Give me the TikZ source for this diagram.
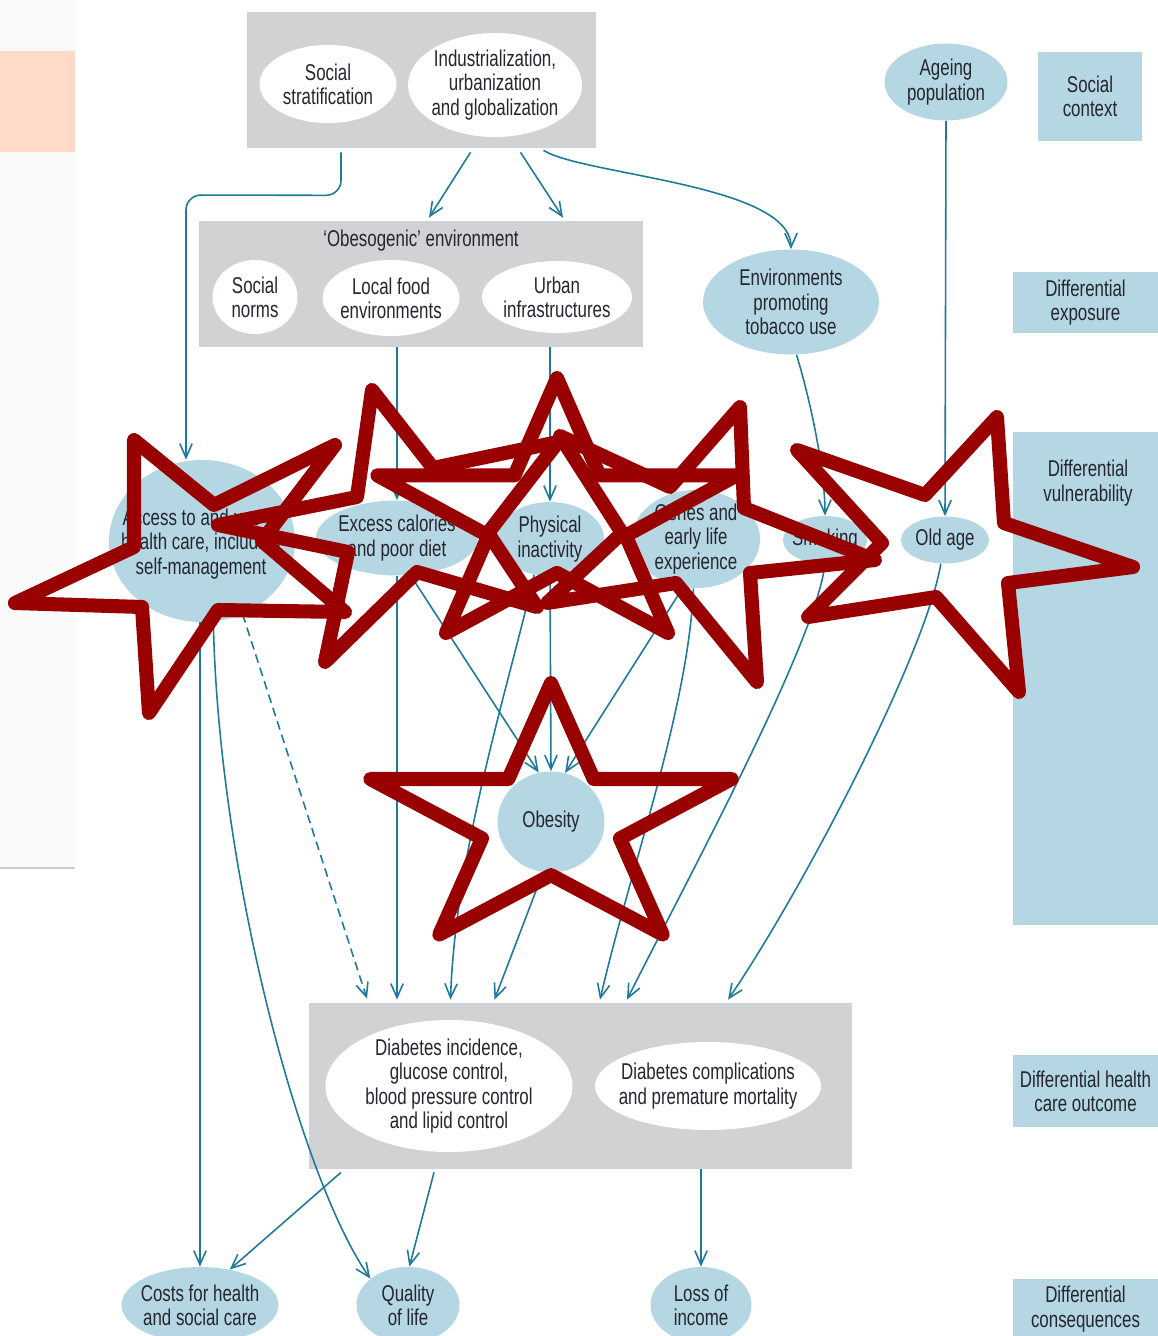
\documentclass[tikz,border=0pt]{standalone}
\usepackage{fontspec}
\setmainfont{Liberation Sans}[FakeStretch=0.74]
\usetikzlibrary{arrows.meta,calc,shapes.geometric}

\definecolor{boxgray}{RGB}{209,210,212}
\definecolor{paleblue}{RGB}{181,214,227}
\definecolor{linkblue}{RGB}{30,122,154}
\definecolor{starred}{RGB}{153,0,0}
\definecolor{peach}{RGB}{255,218,200}
\definecolor{panel}{RGB}{250,250,250}
\definecolor{txt}{RGB}{38,38,46}
\newcommand{\pxl}{0.02cm}

\begin{document}
\begin{tikzpicture}[x={(0.02cm,0)},y={(0,-0.02cm)},
    font=\fontsize{13}{13.8}\selectfont, text=txt,
    wbox/.style={ellipse, fill=white, inner sep=0pt},
    bbox/.style={ellipse, fill=paleblue, inner sep=0pt},
    words/.style={label={[align=center]center:#1}},
    gbox/.style={rectangle, fill=boxgray, inner sep=0pt},
    side/.style={rectangle, fill=paleblue, align=center, inner sep=0pt},
    link/.style={draw=linkblue, line width=0.9pt, -{Straight Barb[length=8pt,width=7pt]}},
    starline/.style={draw=starred, line width=8pt, line join=round, line cap=round}]
        \useasboundingbox (0,0) rectangle (1158,1336);
        \clip (0,0) rectangle (1158,1336);

        % left margin panel
        \fill[panel] (0,0) rectangle (75,868);
        \draw[black!20, line width=0.6pt] (0,868) -- (75,868);
        \fill[peach] (0,51) rectangle (75,152);

        % social context
        \node[gbox, minimum width=349*\pxl, minimum height=136*\pxl] (topbox) at (421.5,80) {};
        \node[wbox, minimum width=137*\pxl, minimum height=78*\pxl, words={Social\\stratification}] (strat) at (328,84) {};
        \node[wbox, minimum width=174*\pxl, minimum height=104*\pxl, words={Industrialization,\\urbanization\\and globalization}] (ind) at (495,85) {};
        \node[bbox, minimum width=123*\pxl, minimum height=77*\pxl, words={Ageing\\population}] (ageing) at (946,82) {};

        % exposure
        \node[gbox, minimum width=444*\pxl, minimum height=126*\pxl] (obesobox) at (421,284) {};
        \node (obesotitle) at (421,241) {`Obesogenic' environment};
        \node[wbox, minimum width=85*\pxl, minimum height=74*\pxl, words={Social\\norms}] (norms) at (255,297) {};
        \node[wbox, minimum width=137*\pxl, minimum height=76*\pxl, words={Local food\\environments}] (localfood) at (391,298) {};
        \node[wbox, minimum width=150*\pxl, minimum height=72*\pxl, words={Urban\\infrastructures}] (urban) at (557,297) {};
        \node[bbox, minimum width=176*\pxl, minimum height=105*\pxl, words={Environments\\promoting\\tobacco use}] (tobacco) at (791,302) {};

        % vulnerability
        \node[bbox, minimum width=186*\pxl, minimum height=162*\pxl] (access) at (202,541) {};
        \node[align=center] (accesstext) at (201,544) {Access to and use of\\health care, including\\self-management};
        \node[bbox, minimum width=162*\pxl, minimum height=75*\pxl, words={Excess calories\\and poor diet}] (excess) at (397,538) {};
        \node[bbox, minimum width=108*\pxl, minimum height=74*\pxl, words={Physical\\inactivity}] (phys) at (550,539) {};
        \node[bbox, minimum width=128*\pxl, minimum height=98*\pxl, words={Genes and\\early life\\experience}] (genes) at (696,539) {};
        \node[bbox, minimum width=84*\pxl, minimum height=48*\pxl, words={Smoking}] (smoking) at (825,540) {};
        \node[bbox, minimum width=88*\pxl, minimum height=47*\pxl, words={Old age}] (oldage) at (945,540) {};
        \node[bbox, minimum width=107*\pxl, minimum height=101*\pxl, words={Obesity}] (obesity) at (551,822) {};

        % health care outcome
        \node[gbox, minimum width=543*\pxl, minimum height=166*\pxl] (diabox) at (580.5,1086) {};
        \node[wbox, minimum width=247*\pxl, minimum height=132*\pxl, words={Diabetes incidence,\\glucose control,\\blood pressure control\\and lipid control}] (diainc) at (449,1086) {};
        \node[wbox, minimum width=226*\pxl, minimum height=88*\pxl, words={Diabetes complications\\and premature mortality}] (diacomp) at (708,1086) {};

        % consequences
        \node[bbox, minimum width=157*\pxl, minimum height=76*\pxl, words={Costs for health\\and social care}] (costs) at (200,1305) {};
        \node[bbox, minimum width=103*\pxl, minimum height=76*\pxl, words={Quality\\of life}] (quality) at (408,1305) {};
        \node[bbox, minimum width=101*\pxl, minimum height=76*\pxl, words={Loss of\\income}] (income) at (701,1305) {};

        % side labels
        \node[side, minimum width=104*\pxl, minimum height=89*\pxl] (ctx) at (1090,96.5) {Social\\context};
        \node[side, minimum width=145*\pxl, minimum height=61*\pxl] (expo) at (1085.5,302.5) {Differential\\exposure};
        \node[side, minimum width=145*\pxl, minimum height=493*\pxl] (vuln) at (1085.5,678.5) {};
        \node[align=center] (vulntext) at (1088,483) {Differential\\vulnerability};
        \node[side, minimum width=145*\pxl, minimum height=72*\pxl] (hco) at (1085.5,1091) {Differential health\\care outcome};
        \node[side, minimum width=145*\pxl, minimum height=60*\pxl] (conseq) at (1085.5,1309) {Differential\\consequences};

        % connectors
        \draw[link, rounded corners=0.3cm] ($(topbox.south)+(-80.5,4)$) -- ($(topbox.south)+(-80.5,47)$) -- (186,195) -- (186,0 |- access.north);
        \draw[link] ($(topbox.south)+(49,4)$) -- ($(obesobox.north)+(8,-3)$);
        \draw[link] ($(topbox.south)+(99,4)$) -- ($(obesobox.north)+(142,-3)$);
        \draw[link] ($(topbox.south)+(122,2)$) .. controls +(40,25) and +(0,-65) .. (tobacco.north);
        \draw[link] (ageing.south) -- (oldage.north);
        \draw[link] (tobacco.-84) .. controls +(15,50) and +(0,-45) .. (smoking.north);
        \draw[link] (obesobox.south -| excess.north) -- (excess.north);
        \draw[link] (obesobox.south -| phys.north) -- (phys.north);
        \draw[link] (excess.south) -- ($(diabox.north -| excess.south)+(0,-3)$);
        \draw[link] (phys.south) -- (obesity.north);
        \draw[link] (excess.-70) -- (obesity.104);
        \draw[link] (genes.-105) -- (obesity.74);
        \draw[link] (phys.-114) .. controls +(-25,110) and +(5,-150) .. ($(diabox.north)+(-130,-3)$);
        \draw[link] (obesity.-99) -- ($(diabox.north)+(-86,-3)$);
        \draw[link] (genes.-93) .. controls +(-5,120) and +(30,-130) .. ($(diabox.north)+(19.5,-3)$);
        \draw[link] (smoking.south) .. controls +(-10,80) and +(60,-120) .. ($(diabox.north)+(46.5,-3)$);
        \draw[link] (oldage.-100) .. controls +(-15,90) and +(75,-110) .. ($(diabox.north)+(147.5,-3)$);
        \draw[link] (access.south -| costs.north) -- (costs.north);
        \draw[link] (access.-82) .. controls +(5,250) and +(-70,-100) .. (quality.145);
        \draw[link, dashed, dash pattern=on 5pt off 3pt] (access.-61) -- ($(diabox.north)+(-213.5,-4)$);
        \draw[link] ($(diabox.south)+(-239.5,3)$) -- (costs.50);
        \draw[link] ($(diabox.south)+(-146.5,3)$) -- (quality.88);
        \draw[link] (diabox.south -| income.north) -- (income.north);

        % stars over the picture
        \draw[starline] (134,440) -- (214,505) -- (335,445) -- (262,541) -- (345,612) -- (218,610) -- (149,713) -- (142,607) -- (15,603) -- (134,547) -- cycle;
        \draw[starline] (372,390) -- (433,468) -- (558,442) -- (488,533) -- (537,607) -- (417,572) -- (325,662) -- (348,552) -- (218,525) -- (357,497) -- cycle;
        \draw[starline] (557,378) -- (599.5,475.4) -- (736.7,475.4) -- (625.7,535.7) -- (668.1,633.1) -- (557,572.9) -- (445.9,633.1) -- (488.3,535.7) -- (377.3,475.4) -- (514.5,475.4) -- cycle;
        \draw[starline] (740,407) -- (744,508) -- (875,560) -- (750,573) -- (757,682) -- (676,583) -- (547,603) -- (622,533) -- (560,436) -- (670,487) -- cycle;
        \draw[starline] (551,683) -- (593.7,779) -- (731.7,779) -- (620,838.4) -- (662.7,934.5) -- (551,875.1) -- (439.3,934.5) -- (482,838.4) -- (370.3,779) -- (508.3,779) -- cycle;
        \draw[starline] (997,417) -- (1004,523) -- (1133,567) -- (1008,583) -- (1019,692) -- (936,597) -- (808,617) -- (882,543) -- (797,450) -- (925,495) -- cycle;
\end{tikzpicture}
\end{document}
